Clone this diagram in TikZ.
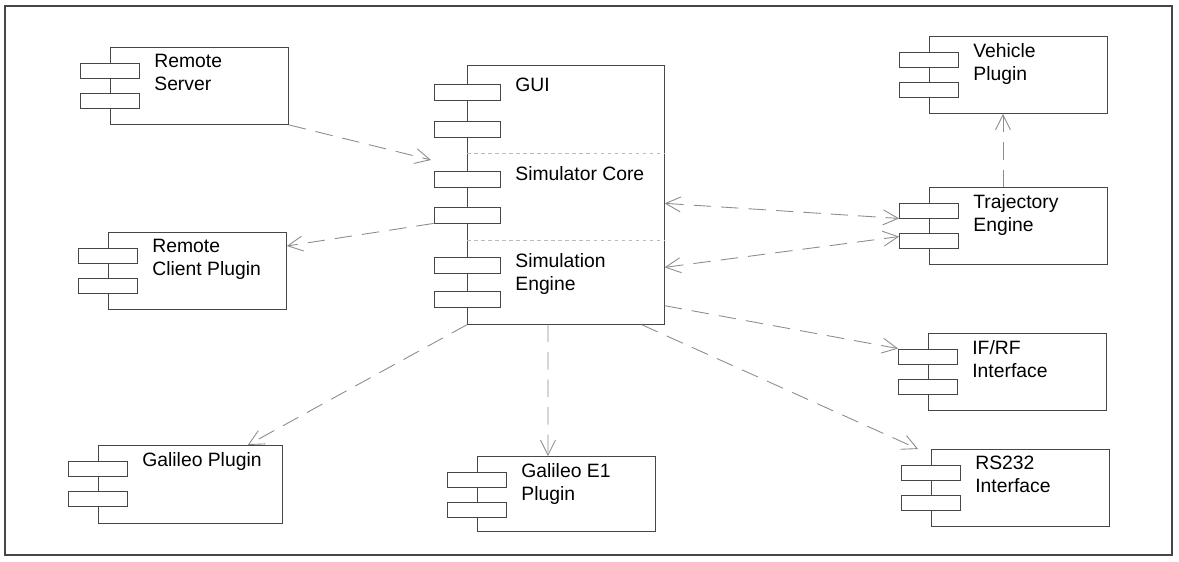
\documentclass[tikz,border=0pt]{standalone}
\usepackage{fontspec}
\setmainfont{Liberation Sans}
\usetikzlibrary{arrows.meta,positioning,calc}
\definecolor{linecolor}{RGB}{70,70,70}
\definecolor{depcolor}{RGB}{140,140,140}

\begin{document}
\begin{tikzpicture}[
    x=0.02cm, y=-0.02cm,
    font=\fontsize{11}{13}\selectfont,
    lbl/.style={anchor=north west, align=left, inner sep=2pt, xshift=0.81cm, yshift=-0.07cm},
    comp/.style={rectangle, draw=linecolor, line width=0.5pt, anchor=north west, minimum width=3.56cm, minimum height=1.54cm, inner sep=0pt, label={[lbl]north west:#1}},
    subcomp/.style={rectangle, anchor=north west, minimum width=3.94cm, inner sep=0pt, label={[lbl, xshift=0.08cm, yshift=-0.12cm]north west:#1}},
    port/.style={rectangle, draw=linecolor, fill=white, line width=0.5pt, minimum width=1.18cm, minimum height=0.3cm, inner sep=0pt},
    bigport/.style={port, minimum width=1.32cm, minimum height=0.32cm},
    dep/.style={-{Straight Barb[length=0.3cm, width=0.3cm]}, dash pattern=on 0.35cm off 0.2cm, depcolor, line width=0.5pt},
    twodep/.style={dep, {Straight Barb[length=0.3cm, width=0.3cm]}-{Straight Barb[length=0.3cm, width=0.3cm]}},
    sep/.style={depcolor!60, dash pattern=on 2pt off 2pt, line width=0.4pt}
]
    \useasboundingbox (0,0) rectangle (1179,561);
    \draw[linecolor, line width=0.6pt] (5,6) rectangle (1172,555);

    % Linke Seite
    \node[comp={Remote\\Server}] (rs) at (110,47) {};
    \node[comp={Remote\\Client Plugin}] (rc) at (108,232) {};
    \node[comp={Galileo Plugin}, minimum width=3.68cm, minimum height=1.56cm] (gp) at (98,445) {};

    % Simulator in der Mitte
    \node[subcomp={GUI}, minimum height=1.76cm] (gui) at (467,65) {};
    \node[subcomp={Simulator Core}, minimum height=1.74cm] (core) at (467,153) {};
    \node[subcomp={Simulation\\Engine}, minimum height=1.68cm] (eng) at (467,240) {};
    \draw[linecolor, line width=0.5pt] (gui.north west) rectangle (eng.south east);
    \draw[sep] (core.north west) -- (core.north east);
    \draw[sep] (eng.north west) -- (eng.north east);
    \node[comp={Galileo E1\\Plugin}, minimum height=1.5cm] (ge) at (477,456) {};

    % Rechte Seite
    \node[comp={Vehicle\\Plugin}] (vp) at (929,36) {};
    \node[comp={Trajectory\\Engine}] (te) at (929,187) {};
    \node[comp={IF/RF\\Interface}] (ir) at (928,333) {};
    \node[comp={RS232\\Interface}] (rsi) at (931,449) {};

    % Ports
    \foreach \n in {rs,rc,gp,ge,vp,te,ir,rsi} {
        \node[port] (\n1) at ($(\n.north west)+(0,23.5)$) {};
        \node[port] (\n2) at ($(\n.north west)+(0,54)$) {};
    }
    \foreach \n/\a/\b in {gui/27/64.5, core/26.5/62, eng/25/59} {
        \node[bigport] (\n1) at ($(\n.north west)+(0,\a)$) {};
        \node[bigport] (\n2) at ($(\n.north west)+(0,\b)$) {};
    }

    \draw[dep] (rs.south east) -- ([xshift=-0.72cm, yshift=-0.14cm]core.north west);
    \draw[dep] (core2.south west) -- ([yshift=-0.28cm]rc.north east);
    \draw[dep] (eng.south west) -- ([xshift=-0.7cm]gp.north east);
    \draw[dep] ([xshift=1.62cm]eng.south west) -- ([xshift=1.42cm]ge.north west);
    \draw[twodep] ([yshift=-0.13cm]core.east) -- (te1.south west);
    \draw[twodep] ([yshift=0.3cm]eng.east) -- ([yshift=-0.07cm]te2.north west);
    \draw[dep] ([xshift=1.48cm]te.north west) -- ([xshift=1.48cm]vp.south west);
    \draw[dep] ([yshift=0.38cm]eng.south east) -- (ir1.north west);
    \draw[dep] ([xshift=-0.46cm]eng.south east) -- ([xshift=-0.26cm]rsi.north west);
\end{tikzpicture}
\end{document}
